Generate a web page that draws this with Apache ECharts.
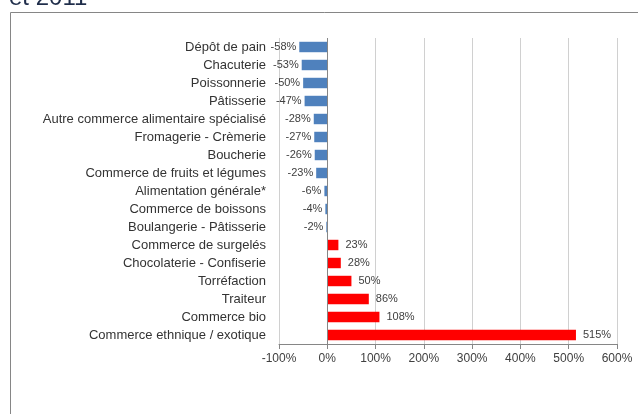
<!DOCTYPE html>
<html>
<head>
<meta charset="utf-8">
<script src="https://cdn.jsdelivr.net/npm/echarts@6/dist/echarts.min.js"></script>
<style>
  html, body { margin: 0; padding: 0; background: #fff; }
  #chart { width: 638px; height: 414px; }
</style>
</head>
<body>
<div id="chart"></div>
<script>
const categories = [
  'Dépôt de pain', 'Chacuterie', 'Poissonnerie', 'Pâtisserie',
  'Autre commerce alimentaire spécialisé', 'Fromagerie - Crèmerie',
  'Boucherie', 'Commerce de fruits et légumes', 'Alimentation générale*',
  'Commerce de boissons', 'Boulangerie - Pâtisserie', 'Commerce de surgelés',
  'Chocolaterie - Confiserie', 'Torréfaction', 'Traiteur', 'Commerce bio',
  'Commerce ethnique / exotique'
]
const values = [-58, -53, -50, -47, -28, -27, -26, -23, -6, -4, -2, 23, 28, 50, 86, 108, 515]
const xTicks = [-100, 0, 100, 200, 300, 400, 500, 600]

const font = 'Liberation Sans'
const chart = echarts.init(document.getElementById('chart'))

const barData = values.map(v => ({
  value: v,
  itemStyle: { color: v < 0 ? '#4f81bd' : '#ff0000' },
  label: { position: v < 0 ? 'left' : 'right', distance: v < 0 ? 3 : 7 }
}))

chart.setOption({
  animation: false,
  graphic: [
    {
      type: 'rect',
      shape: { x: 10.5, y: 12.5, width: 700, height: 500 },
      style: { fill: 'none', stroke: '#868686', lineWidth: 1 }
    },
    {
      type: 'text', left: 9, top: -14,
      style: { text: 'et 2011', font: '24px "Liberation Sans"', fill: '#1f2d4a' }
    }
  ],
  grid: { left: 279, right: 21, top: 38, bottom: 70, containLabel: false },
  xAxis: {
    type: 'value',
    min: xTicks[0], max: xTicks[xTicks.length - 1], interval: 100,
    axisLine: { show: true, onZero: false, lineStyle: { color: '#868686' } },
    axisTick: { show: true, length: 5, lineStyle: { color: '#868686' } },
    axisLabel: { formatter: '{value}%', color: '#404040', fontFamily: font, fontSize: 12, margin: 9 },
    splitLine: { show: true, lineStyle: { color: '#d0d0d0', width: 1 } }
  },
  yAxis: {
    type: 'category', data: categories, inverse: true,
    axisLine: { show: false }, axisTick: { show: false },
    axisLabel: { color: '#333', fontFamily: font, fontSize: 13, margin: 13 }
  },
  series: [{
    type: 'bar',
    data: barData,
    barWidth: '58%',
    label: {
      show: true, formatter: '{c}%', color: '#404040',
      fontFamily: font, fontSize: 11
    },
    markLine: {
      silent: true, symbol: 'none', label: { show: false },
      lineStyle: { color: '#868686', type: 'solid', width: 1 },
      data: [{ xAxis: 0 }]
    }
  }]
})
</script>
</body>
</html>
